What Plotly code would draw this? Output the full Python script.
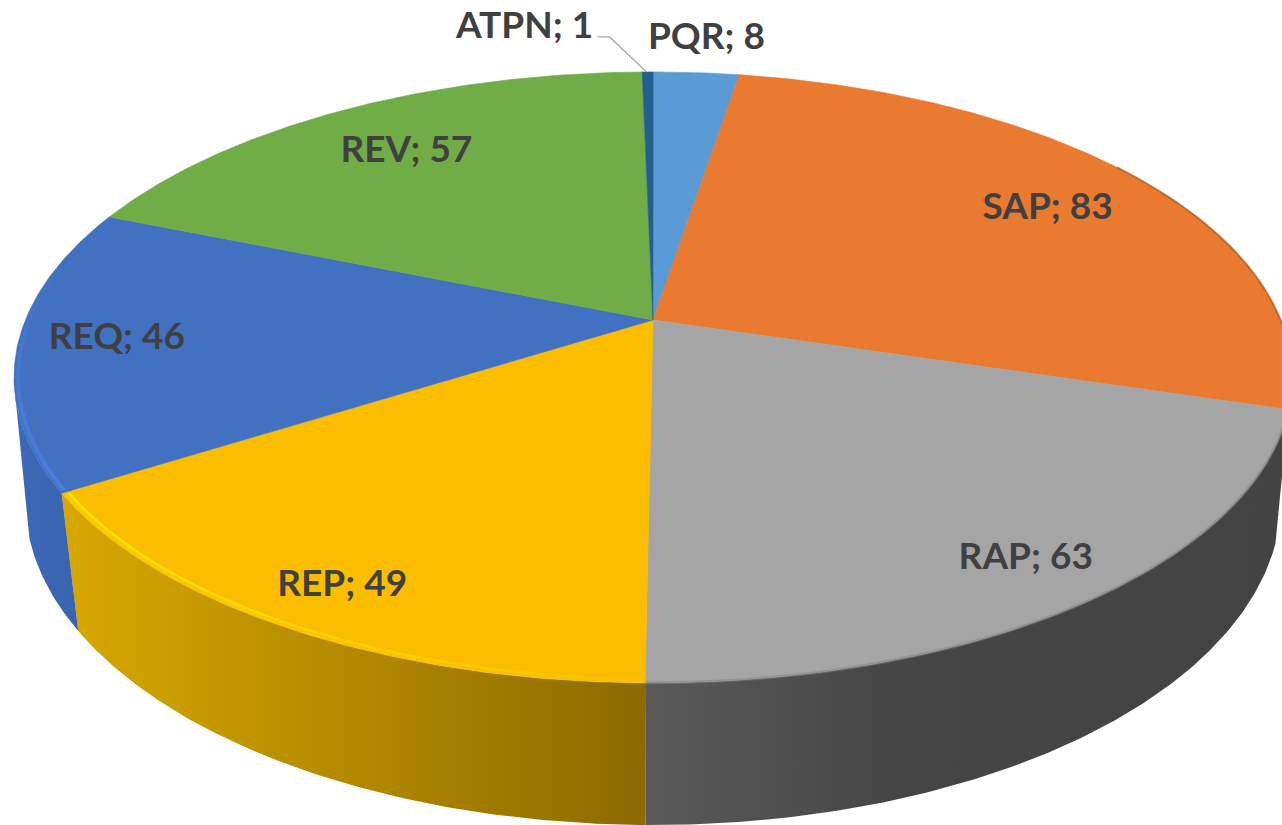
import numpy as np
import plotly.graph_objects as go

categories = ["PQR", "SAP", "RAP", "REP", "REQ", "REV", "ATPN"]
values = [8, 83, 63, 49, 46, 57, 1]

top_colors = ["#5B9BD5", "#EA7A2F", "#A5A5A5", "#FBBD00", "#4271C2", "#70AD47", "#255E91"]
wall_scales = {
    "RAP": [[0, "#5A5A5A"], [0.4, "#454545"], [1, "#434343"]],
    "REP": [[0, "#D8A800"], [1, "#8C6A00"]],
    "REQ": [[0, "#3C69B8"], [1, "#3A64AE"]],
}
label_radius = [1.175, 0.80, 0.87, 0.87, 0.855, 0.80, 1.0]
label_offset = [(4, 3), (0, 5), (0, 2), (1, 6), (6, -2), (7, 5), (-123, -43)]

W, H = 1282, 825
total = sum(values)
edges = np.cumsum([0] + values) / total * 2 * np.pi
TOP = dict(cx=653.0, cy=320.0, A=294.7, B=627.6, k=0.188)
BOT = dict(cx=653.0, cy=448.0, A=316.7, B=620.0, k=0.16)


def project(theta, r, p):
    u = r * np.sin(theta)
    t = -r * np.cos(theta)
    den = 1 - p["k"] * t
    return p["cx"] + p["B"] * u / den, p["cy"] + p["A"] * t / den


fig = go.Figure()


def arc(a, b, r=1.0, p=TOP, n=None):
    n = n or max(int(abs(b - a) * 120), 3)
    return project(np.linspace(a, b, n), r, p)


def add_wall(name, a_top, b_top, a_bot, b_bot):
    x1, y1 = arc(a_top, b_top)
    x2, y2 = arc(b_bot, a_bot, p=BOT)
    fig.add_trace(go.Scatter(
        x=np.r_[x1, x2, x1[:1]], y=np.r_[y1, y2, y1[:1]], mode="lines",
        line=dict(width=0), fill="toself", hoverinfo="skip",
        fillgradient=dict(type="horizontal", colorscale=wall_scales[name]),
    ))


def add_rim(a, b, rgb, alpha0, alpha1, r, width, n=24):
    ts = np.linspace(a, b, n + 1)
    for i in range(n):
        al = alpha0 + (alpha1 - alpha0) * (i + 0.5) / n
        x, y = arc(ts[i], ts[i + 1], r=r, n=6)
        fig.add_trace(go.Scatter(
            x=x, y=y, mode="lines", hoverinfo="skip",
            line=dict(color=f"rgba({rgb},{al:.3f})", width=width),
        ))


ix = {c: i for i, c in enumerate(categories)}
e = lambda name, end=0: edges[ix[name] + end]
add_wall("RAP", e("RAP"), e("RAP", 1), e("RAP"), e("RAP", 1))
add_wall("REP", e("REP"), e("REP", 1), e("REP"), e("REP", 1))
add_wall("REQ", e("REQ"), np.radians(258), e("REQ"), np.radians(254))

for i, c in enumerate(categories):
    x, y = arc(edges[i], edges[i + 1])
    fig.add_trace(go.Scatter(
        x=np.r_[TOP["cx"], x, TOP["cx"]], y=np.r_[TOP["cy"], y, TOP["cy"]],
        mode="lines", fill="toself", fillcolor=top_colors[i],
        line=dict(color=top_colors[i], width=0.6), hoverinfo="skip", name=c,
    ))

# bevel highlights along the top edge
add_rim(e("REP", 1) - 0.006, e("REP"), "255,214,0", 0.6, 0.05, 0.994, 5)
add_rim(e("REP", 1) - 0.006, e("REP"), "255,232,0", 1.0, 0.05, 0.991, 2.5)
add_rim(e("REQ") + 0.006, np.radians(282), "74,128,222", 1.0, 0.0, 0.994, 4)
add_rim(e("RAP"), e("RAP", 1), "125,125,125", 0.45, 0.45, 1.0, 3)
add_rim(np.radians(55), e("SAP", 1), "150,80,30", 0.6, 0.6, 1.0, 2)

# leader line of the smallest slice
mid = (edges[:-1] + edges[1:]) / 2
rx, ry = project(mid[-1], 1.0, TOP)
lead_x = np.array([rx - 50, rx - 38, rx - 1])
lead_y = np.array([ry - 35, ry - 35, ry])
fig.add_trace(go.Scatter(x=lead_x, y=lead_y, mode="lines", hoverinfo="skip",
                         line=dict(color="#A6A6A6", width=1.2)))

for i, c in enumerate(categories):
    lx, ly = project(mid[i], label_radius[i], TOP)
    fig.add_trace(go.Scatter(
        x=[lx + label_offset[i][0]], y=[ly + label_offset[i][1]], mode="text",
        text=[f"{c}; {values[i]}"], textposition="middle center", hoverinfo="skip",
        textfont=dict(family="Lato", size=37, color="#404040", weight="bold"),
    ))

fig.update_layout(
    width=W, height=H, margin=dict(l=0, r=0, t=0, b=0), showlegend=False,
    paper_bgcolor="white", plot_bgcolor="white",
    xaxis=dict(range=[0, W], visible=False, fixedrange=True),
    yaxis=dict(range=[H, 0], visible=False, fixedrange=True),
)
fig.write_html("out.html", config={"displayModeBar": False},
               post_script="document.body.style.margin='0';")
